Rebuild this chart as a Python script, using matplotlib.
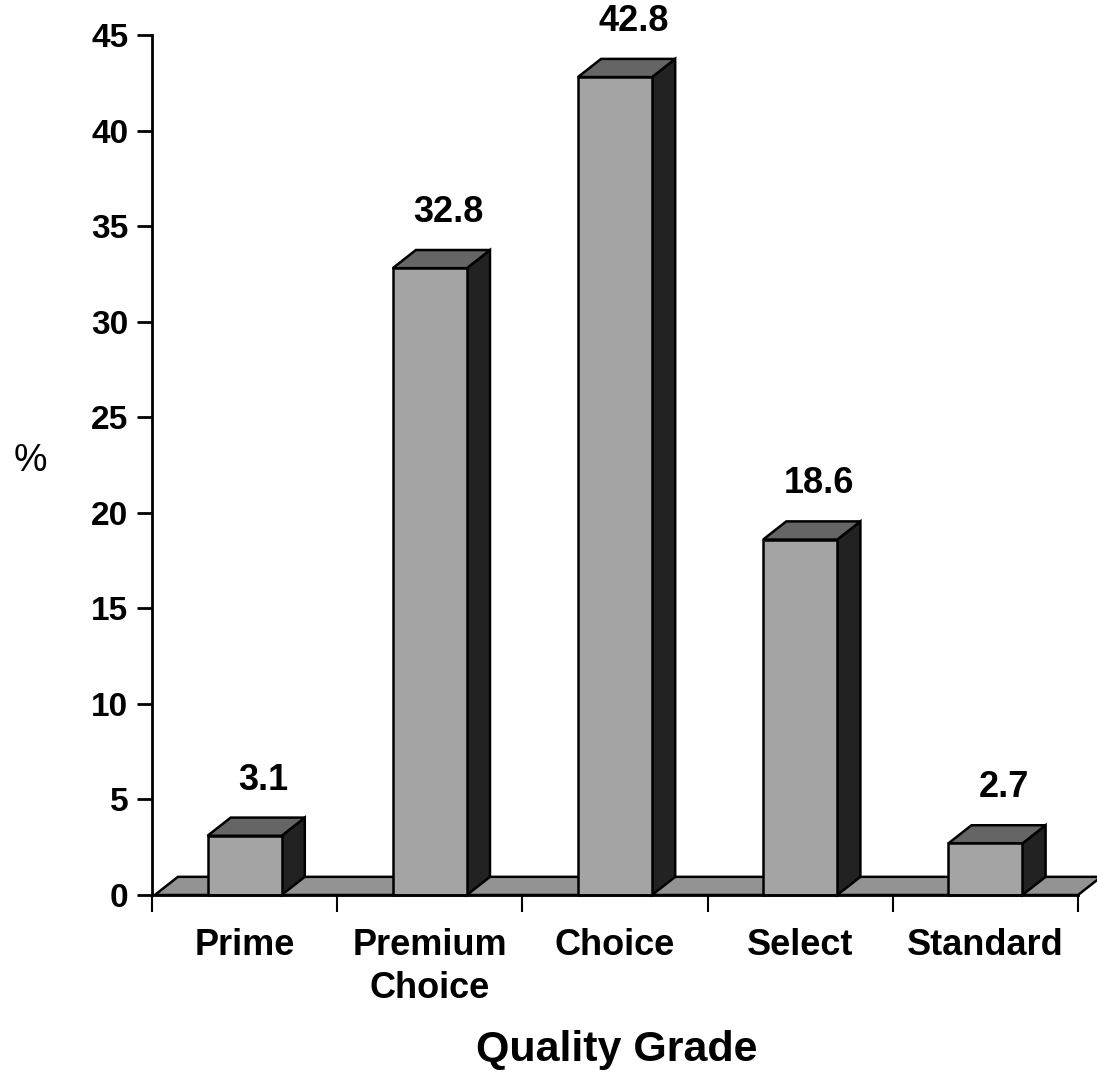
import matplotlib
matplotlib.use("Agg")
import matplotlib.pyplot as plt
from matplotlib.patches import Polygon, Rectangle

categories = ["Prime", "Premium\nChoice", "Choice", "Select", "Standard"]
values = [3.1, 32.8, 42.8, 18.6, 2.7]
value_labels = ["3.1", "32.8", "42.8", "18.6", "2.7"]
yticks = [0, 5, 10, 15, 20, 25, 30, 35, 40, 45]

plt.rcParams['font.family'] = ['Liberation Sans', 'DejaVu Sans']

fig = plt.figure(figsize=(10.97, 10.81), dpi=100)
ax = fig.add_axes([152/1097, 1-895/1081, (1078-152)/1097, (895-35)/1081])
ax.set_xlim(0, len(categories))
ax.set_ylim(0, 45)

dx, dy = 0.125, 0.95   # 3D depth offset in data units
w = 0.4
face_c = '#a4a4a4'
top_c = '#656565'
side_c = '#222222'
floor_c = '#939393'
lw = 1.8

# floor
n = len(categories)
floor = Polygon([(0.015, 0), (n, 0), (n + dx, dy), (0.015 + dx, dy)], closed=True,
                facecolor=floor_c, edgecolor='black', lw=lw, clip_on=False, zorder=1)
ax.add_patch(floor)

for i, v in enumerate(values):
    x0 = i + 0.5 - w / 2
    x1 = x0 + w
    side = Polygon([(x1, 0), (x1 + dx, dy), (x1 + dx, v + dy), (x1, v)], closed=True,
                   facecolor=side_c, edgecolor='black', lw=lw, clip_on=False, zorder=2)
    top = Polygon([(x0, v), (x0 + dx, v + dy), (x1 + dx, v + dy), (x1, v)], closed=True,
                  facecolor=top_c, edgecolor='black', lw=lw, clip_on=False, zorder=2)
    front = Rectangle((x0, 0), w, v, facecolor=face_c, edgecolor='black', lw=lw,
                      clip_on=False, zorder=3)
    ax.add_patch(side)
    ax.add_patch(top)
    ax.add_patch(front)
    ax.annotate(value_labels[i], xy=(i + 0.5 + 0.1, v), xytext=(0, 40),
                textcoords='offset points', ha='center', va='center',
                fontsize=26, fontweight='bold', annotation_clip=False)

for s in ['top', 'right']:
    ax.spines[s].set_visible(False)
ax.spines['left'].set_linewidth(2)
ax.spines['bottom'].set_linewidth(2)
ax.spines['bottom'].set_zorder(4)

ax.set_yticks(yticks)
ax.set_yticklabels([str(t) for t in yticks], fontsize=24, fontweight='bold')
ax.tick_params(axis='y', direction='out', length=11, width=2, pad=6)

ax.set_xticks(range(n + 1))
ax.set_xticklabels([''] * (n + 1))
ax.tick_params(axis='x', which='major', direction='out', length=12, width=1.5)
ax.set_xticks([i + 0.5 for i in range(n)], minor=True)
ax.set_xticklabels(categories, minor=True, fontsize=26, fontweight='bold', linespacing=1.3)
ax.tick_params(axis='x', which='minor', length=0, pad=24)

fig.text(30/1097, 1-461/1081, '%', fontsize=27, ha='center', va='center')
fig.text(617/1097, 1-1050/1081, 'Quality Grade', fontsize=31, fontweight='bold',
         ha='center', va='center')

fig.savefig('out.png', dpi=100)
